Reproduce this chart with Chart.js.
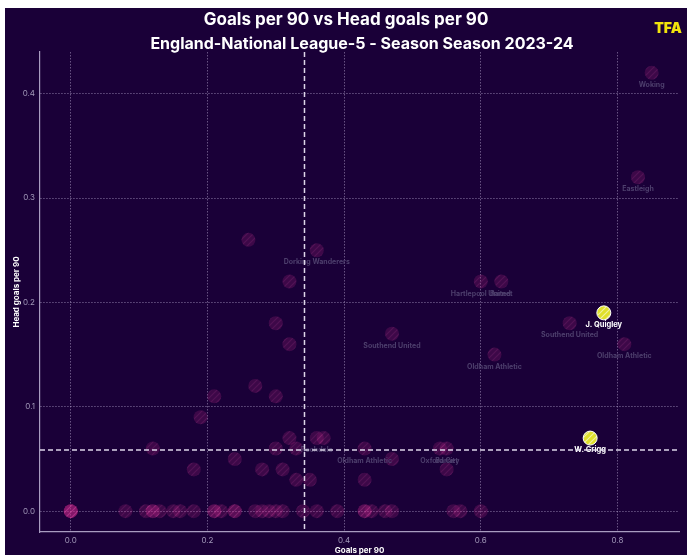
<!DOCTYPE html>
<html>
<head>
<meta charset="utf-8">
<script src="https://cdn.jsdelivr.net/npm/chart.js@4.4.0/dist/chart.umd.min.js"></script>
<style>
  html, body { margin: 0; padding: 0; background: #fff; }
  #wrap { position: absolute; left: 5px; top: 8px; width: 682px; height: 547px; background: #1a0038; }
</style>
</head>
<body>
<div id="wrap"><canvas id="chart"></canvas></div>
<script>
// players with at least one headed goal
const goalsPer90 = [0.85, 0.83, 0.26, 0.36, 0.32, 0.60, 0.63, 0.73, 0.47, 0.30, 0.32, 0.81, 0.62, 0.27, 0.21, 0.30, 0.19,
  0.32, 0.36, 0.37, 0.12, 0.30, 0.33, 0.43, 0.54, 0.55, 0.24, 0.47, 0.18, 0.28, 0.31, 0.55, 0.33, 0.35, 0.43];
const headGoalsPer90 = [0.42, 0.32, 0.26, 0.25, 0.22, 0.22, 0.22, 0.18, 0.17, 0.18, 0.16, 0.16, 0.15, 0.12, 0.11, 0.11, 0.09,
  0.07, 0.07, 0.07, 0.06, 0.06, 0.06, 0.06, 0.06, 0.06, 0.05, 0.05, 0.04, 0.04, 0.04, 0.04, 0.03, 0.03, 0.03];
const teamLabels = ['Woking', 'Eastleigh', '', 'Dorking Wanderers', '', 'Hartlepool United', 'Barnet', 'Southend United',
  'Southend United', '', '', 'Oldham Athletic', 'Oldham Athletic', '', '', '', '',
  '', 'Rochdale', '', '', '', '', 'Oldham Athletic', 'Oxford City', 'Barnet', '', '', '', '', '', '', '', '', ''];

// players with no headed goals
const zeroHeadGoalsX = [0, 0, 0, 0, 0.08, 0.11, 0.12, 0.12, 0.13, 0.15, 0.16, 0.18, 0.21, 0.21, 0.22, 0.24, 0.24, 0.27,
  0.28, 0.29, 0.30, 0.31, 0.34, 0.36, 0.39, 0.43, 0.43, 0.44, 0.46, 0.47, 0.56, 0.57, 0.60];

// highlighted players
const highlightNames = ['J. Quigley', 'W. Grigg'];
const highlightX = [0.78, 0.76];
const highlightY = [0.19, 0.07];

const medianGoals = 0.342;
const medianHeadGoals = 0.0585;

const xTicks = [0, 0.2, 0.4, 0.6, 0.8];
const yTicks = [0, 0.1, 0.2, 0.3, 0.4];

function hatch(base, stripe) {
  const size = 6;
  const c = document.createElement('canvas');
  c.width = size; c.height = size;
  const g = c.getContext('2d');
  g.fillStyle = base;
  g.fillRect(0, 0, size, size);
  g.strokeStyle = stripe;
  g.lineWidth = 1.2;
  g.beginPath();
  g.moveTo(0, size); g.lineTo(size, 0);
  g.moveTo(-2, 2); g.lineTo(2, -2);
  g.moveTo(size - 2, size + 2); g.lineTo(size + 2, size - 2);
  g.stroke();
  return g.createPattern(c, 'repeat');
}

const pinkFill = hatch('rgba(205,40,140,0.2)', 'rgba(235,110,190,0.12)');
const yellowFill = hatch('#e0e02a', 'rgba(255,255,255,0.55)');

const extras = {
  id: 'extras',
  afterDatasetsDraw(chart) {
    const ctx = chart.ctx;
    const x = chart.scales.x, y = chart.scales.y;
    const area = chart.chartArea;
    ctx.save();
    ctx.textAlign = 'center';
    ctx.textBaseline = 'middle';

    // team labels under the points
    ctx.font = 'bold 7px Inter';
    ctx.fillStyle = '#4e3f6d';
    chart.getDatasetMeta(0).data.forEach((el, i) => {
      if (teamLabels[i]) ctx.fillText(teamLabels[i], el.x, el.y + 12);
    });

    // highlighted player names
    ctx.font = 'bold 7.5px Inter';
    ctx.fillStyle = '#ffffff';
    chart.getDatasetMeta(2).data.forEach((el, i) => {
      ctx.fillText(highlightNames[i], el.x, el.y + 12);
    });

    // median lines
    ctx.strokeStyle = 'rgba(232,224,242,0.95)';
    ctx.lineWidth = 1.5;
    ctx.setLineDash([5, 3]);
    const mx = x.getPixelForValue(medianGoals);
    const my = y.getPixelForValue(medianHeadGoals);
    ctx.beginPath();
    ctx.moveTo(mx, area.top); ctx.lineTo(mx, area.bottom);
    ctx.moveTo(area.left, my); ctx.lineTo(area.right, my);
    ctx.stroke();
    ctx.restore();
  },
  afterDraw(chart) {
    const ctx = chart.ctx;
    const w = chart.width;
    ctx.save();
    ctx.textAlign = 'center';
    ctx.textBaseline = 'middle';
    ctx.fillStyle = '#ffffff';
    ctx.font = 'bold 17px Inter';
    ctx.fillText('Goals per 90 vs Head goals per 90', w / 2, 12);
    ctx.font = 'bold 16px Inter';
    ctx.fillText('England-National League-5 - Season Season 2023-24', 357, 36);
    ctx.fillStyle = '#f2e40c';
    ctx.font = '900 14px Inter';
    ctx.fillText('TFA', 663, 21);
    ctx.restore();
  }
};

const gridColor = 'rgba(200,185,225,0.45)';

new Chart(document.getElementById('chart'), {
  type: 'scatter',
  data: {
    datasets: [
      {
        data: goalsPer90.map((v, i) => ({ x: v, y: headGoalsPer90[i] })),
        backgroundColor: pinkFill,
        borderWidth: 0,
        pointRadius: 7
      },
      {
        data: zeroHeadGoalsX.map(v => ({ x: v, y: 0 })),
        backgroundColor: pinkFill,
        borderWidth: 0,
        pointRadius: 7
      },
      {
        data: highlightX.map((v, i) => ({ x: v, y: highlightY[i] })),
        backgroundColor: yellowFill,
        borderColor: '#ffffff',
        borderWidth: 1,
        pointRadius: 7
      }
    ]
  },
  options: {
    responsive: true,
    maintainAspectRatio: false,
    animation: false,
    events: [],
    layout: { padding: { top: 44, right: 1, left: 0, bottom: 0 } },
    plugins: { legend: { display: false }, tooltip: { enabled: false } },
    scales: {
      x: {
        type: 'linear',
        min: -0.045,
        max: 0.89,
        afterBuildTicks: s => { s.ticks = xTicks.map(v => ({ value: v })); },
        afterFit: s => { s.height = 23; s.paddingLeft = 0; s.paddingRight = 0; },
        ticks: { color: '#a197b8', font: { size: 8, family: 'Inter' }, padding: 4, callback: v => v.toFixed(1) },
        grid: { color: gridColor, lineWidth: 1, drawTicks: false },
        border: { display: true, color: '#a89cc0', width: 1.2, dash: [1.5, 1.5] },
        title: { display: true, text: 'Goals per 90', color: '#ffffff', font: { size: 8, weight: 'bold', family: 'Inter' }, padding: 0 }
      },
      y: {
        type: 'linear',
        min: -0.02,
        max: 0.44,
        afterBuildTicks: s => { s.ticks = yTicks.map(v => ({ value: v })); },
        afterFit: s => { s.width = 35; s.paddingTop = 0; s.paddingBottom = 0; },
        ticks: { color: '#a197b8', font: { size: 8, family: 'Inter' }, padding: 5, callback: v => v.toFixed(1) },
        grid: { color: gridColor, lineWidth: 1, drawTicks: false },
        border: { display: true, color: '#a89cc0', width: 1.2, dash: [1.5, 1.5] },
        title: { display: true, text: 'Head goals per 90', color: '#ffffff', font: { size: 8, weight: 'bold', family: 'Inter' }, padding: 7 }
      }
    }
  },
  plugins: [extras]
});
</script>
</body>
</html>
